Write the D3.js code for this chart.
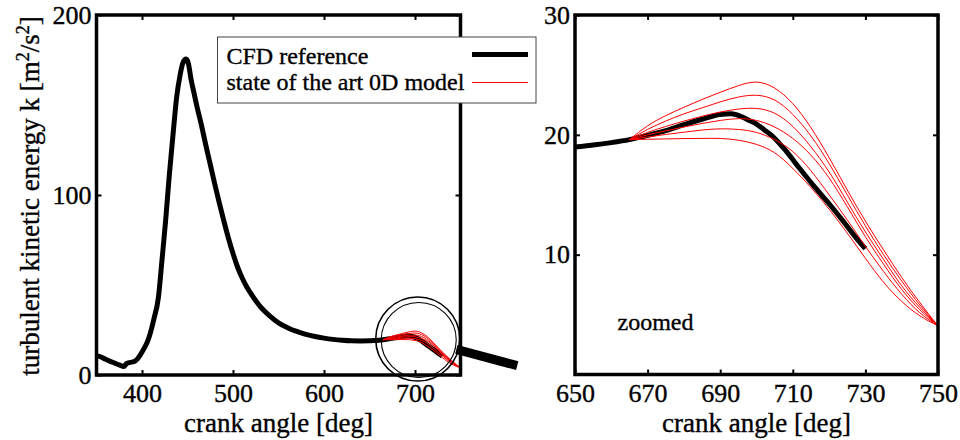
<!DOCTYPE html>
<html>
<head>
<meta charset="utf-8">
<script src="https://cdn.jsdelivr.net/npm/d3@7"></script>
<style>
  body { margin: 0; background: #fff; }
  svg { display: block; }
  text { font-family: "Liberation Serif", "Times New Roman", serif; fill: #000; stroke: #000; stroke-width: 0.35px; }
</style>
</head>
<body>
<svg id="chart" width="960" height="440"></svg>
<script>
// CFD reference: turbulent kinetic energy over crank angle
const cfdAngle = [350,354,360,365,370,375,380,383,387,391,395,398,402,406,409,413,418,422,426,430,
  434,438,442,445,448.5,451,454,457,460,465,470,475,480,485,490,495,500,505,510,515,
  520,530,540,550,560,570,580,590,600,610,620,630,640,650,655,660,665,670,675,680,
  685,690,693,696,698,700,702,704,708,712,716,720,724,728,730];
const cfdK = [10.5,10.2,8.7,7.6,6.6,5.6,4.7,6.3,7.0,7.4,9.0,11.1,14.5,18.5,23,31,43,64,86,111,
  133,154,167,173.5,175.5,173,164,157,150,139.5,128,117,106,95.5,85.5,76,67.5,60,54,49,
  45,38,33,29,26.3,24.2,22.6,21.4,20.5,19.8,19.3,19.0,18.95,19.0,19.15,19.35,19.6,19.95,20.35,20.85,
  21.3,21.7,21.75,21.5,21.2,20.9,20.45,20.0,18.7,17.15,15.65,14.25,12.75,11.2,10.5];

// state of the art 0D model: family of runs started at 665 deg
const modelAngle = [665,670,675,680,685,690,695,700,705,710,715,720,725,730,735,740,745,750];
const modelRun1 = [19.6,19.63,19.66,19.69,19.7,19.7,19.55,19.2,18.5,17.2,15.6,13.8,11.8,9.7,7.7,6.1,4.9,4.05];
const modelRun2 = [19.6,19.82,20.03,20.22,20.4,20.5,20.45,20.2,19.6,18.6,17.0,15.0,12.9,10.7,8.6,6.7,5.15,4.05];
const modelRun3 = [19.6,20.0,20.33,20.65,20.95,21.2,21.35,21.2,20.65,19.7,18.3,16.4,14.0,11.5,9.2,7.1,5.4,4.05];
const modelRun4 = [19.6,20.2,20.7,21.15,21.55,21.9,22.15,22.2,21.8,20.7,19.0,16.9,14.4,11.9,9.6,7.4,5.6,4.05];
const modelRun5 = [19.6,20.45,21.15,21.75,22.25,22.75,23.15,23.3,22.9,21.7,19.9,17.6,15.0,12.4,10.0,7.8,5.8,4.05];
const modelRun6 = [19.6,20.75,21.6,22.3,22.95,23.55,24.1,24.4,23.9,22.6,20.6,18.1,15.4,12.8,10.4,8.1,6.0,4.05];
const modelRuns = [modelRun1, modelRun2, modelRun3, modelRun4, modelRun5, modelRun6];

// axis ticks
const leftXTicks = [400, 500, 600, 700];
const leftYTicks = [0, 100, 200];
const rightXTicks = [650, 670, 690, 710, 730, 750];
const rightYTicks = [10, 20, 30];

const legendLabels = ["CFD reference", "state of the art 0D model"];
const xLabel = "crank angle [deg]";

const svg = d3.select("#chart");
const FONT = '"Liberation Serif", "Times New Roman", serif';

const cfdPts = cfdAngle.map((a, i) => [a, cfdK[i]]);
const runPts = modelRuns.map(run => modelAngle.map((a, i) => [a, run[i]]));

function panel(g, x, y, xTicks, yTicks, id) {
  const [x0, x1] = x.range();
  const [y0, y1] = y.range();

  g.append("clipPath").attr("id", id)
    .append("rect").attr("x", x0).attr("y", y1).attr("width", x1 - x0).attr("height", y0 - y1);

  const cfdLine = d3.line().x(d => x(d[0])).y(d => y(d[1])).curve(d3.curveMonotoneX);
  const runLine = d3.line().x(d => x(d[0])).y(d => y(d[1])).curve(d3.curveNatural);
  const plot = g.append("g").attr("clip-path", `url(#${id})`);

  plot.append("path").datum(cfdPts.filter(d => d[0] >= x.domain()[0] - 10))
    .attr("d", cfdLine).attr("fill", "none").attr("stroke", "#000")
    .attr("stroke-width", 5).attr("stroke-linejoin", "round");

  plot.selectAll("path.run").data(runPts).join("path").attr("class", "run")
    .attr("d", runLine).attr("fill", "none").attr("stroke", "#ff0000").attr("stroke-width", 1);

  // inward ticks on all four sides
  const tickLen = 5;
  const styleAxis = sel => {
    sel.select(".domain").remove();
    sel.selectAll(".tick line").attr("stroke", "#000").attr("stroke-width", 2);
    sel.attr("font-family", FONT).attr("font-size", 26);
    sel.selectAll("text").attr("fill", "#000");
  };
  g.append("g").attr("transform", `translate(0,${y0})`)
    .call(d3.axisBottom(x).tickValues(xTicks).tickFormat(d3.format("d")).tickSize(-tickLen).tickPadding(9))
    .call(styleAxis);
  g.append("g").attr("transform", `translate(0,${y1})`)
    .call(d3.axisTop(x).tickValues(xTicks).tickFormat("").tickSize(-tickLen))
    .call(styleAxis);
  g.append("g").attr("transform", `translate(${x0},0)`)
    .call(d3.axisLeft(y).tickValues(yTicks).tickFormat(d3.format("d")).tickSize(-tickLen).tickPadding(5))
    .call(styleAxis);
  g.append("g").attr("transform", `translate(${x1},0)`)
    .call(d3.axisRight(y).tickValues(yTicks).tickFormat("").tickSize(-tickLen))
    .call(styleAxis);

  g.append("rect").attr("x", x0).attr("y", y1).attr("width", x1 - x0).attr("height", y0 - y1)
    .attr("fill", "none").attr("stroke", "#000").attr("stroke-width", 3.5);

  g.append("text").attr("x", (x0 + x1) / 2).attr("y", 431.5).attr("text-anchor", "middle")
    .attr("font-size", 27).text(xLabel);
}

// ---- left panel: full cycle ----
const xL = d3.scaleLinear().domain([350, 750]).range([96.5, 460.5]);
const yL = d3.scaleLinear().domain([0, 200]).range([375, 15]);
const gL = svg.append("g");
panel(gL, xL, yL, leftXTicks, leftYTicks, "clipL");

// y axis title with superscripts
const yTitle = gL.append("text").attr("transform", `translate(39,196) rotate(-90)`)
  .attr("text-anchor", "middle").attr("font-size", 27);
yTitle.append("tspan").text("turbulent kinetic energy k [m");
yTitle.append("tspan").attr("font-size", 18).attr("baseline-shift", "super").text("2");
yTitle.append("tspan").text("/s");
yTitle.append("tspan").attr("font-size", 18).attr("baseline-shift", "super").text("2");
yTitle.append("tspan").text("]");

// magnifier around the late-compression region
const lensC = [xL(703), yL(20)];
const lensG = svg.append("g");
const theta = 15 * Math.PI / 180;
lensG.append("line")
  .attr("x1", lensC[0] + 40 * Math.cos(theta)).attr("y1", lensC[1] + 40 * Math.sin(theta))
  .attr("x2", lensC[0] + 103 * Math.cos(theta)).attr("y2", lensC[1] + 103 * Math.sin(theta))
  .attr("stroke", "#000").attr("stroke-width", 9);
lensG.append("circle").attr("cx", lensC[0]).attr("cy", lensC[1]).attr("r", 42)
  .attr("fill", "none").attr("stroke", "#000").attr("stroke-width", 1.6);
lensG.append("circle").attr("cx", lensC[0] + 1).attr("cy", lensC[1] + 1).attr("r", 37.5)
  .attr("fill", "none").attr("stroke", "#000").attr("stroke-width", 1.1);

// legend
const leg = svg.append("g");
leg.append("rect").attr("x", 217.5).attr("y", 37).attr("width", 318.5).attr("height", 66)
  .attr("fill", "#fff").attr("stroke", "#444").attr("stroke-width", 1);
leg.append("text").attr("x", 226.5).attr("y", 63.5).attr("font-size", 24).text(legendLabels[0]);
leg.append("text").attr("x", 226.5).attr("y", 90).attr("font-size", 24).text(legendLabels[1]);
leg.append("line").attr("x1", 472).attr("x2", 528).attr("y1", 54.5).attr("y2", 54.5)
  .attr("stroke", "#000").attr("stroke-width", 5);
leg.append("line").attr("x1", 472).attr("x2", 528).attr("y1", 82.5).attr("y2", 82.5)
  .attr("stroke", "#ff0000").attr("stroke-width", 1);

// ---- right panel: zoomed view ----
const xR = d3.scaleLinear().domain([650, 750]).range([575, 938]);
const yR = d3.scaleLinear().domain([0, 30]).range([374.5, 15]);
const gR = svg.append("g");
panel(gR, xR, yR, rightXTicks, rightYTicks, "clipR");
gR.append("text").attr("x", 617.5).attr("y", 330).attr("font-size", 24).text("zoomed");
</script>
</body>
</html>
